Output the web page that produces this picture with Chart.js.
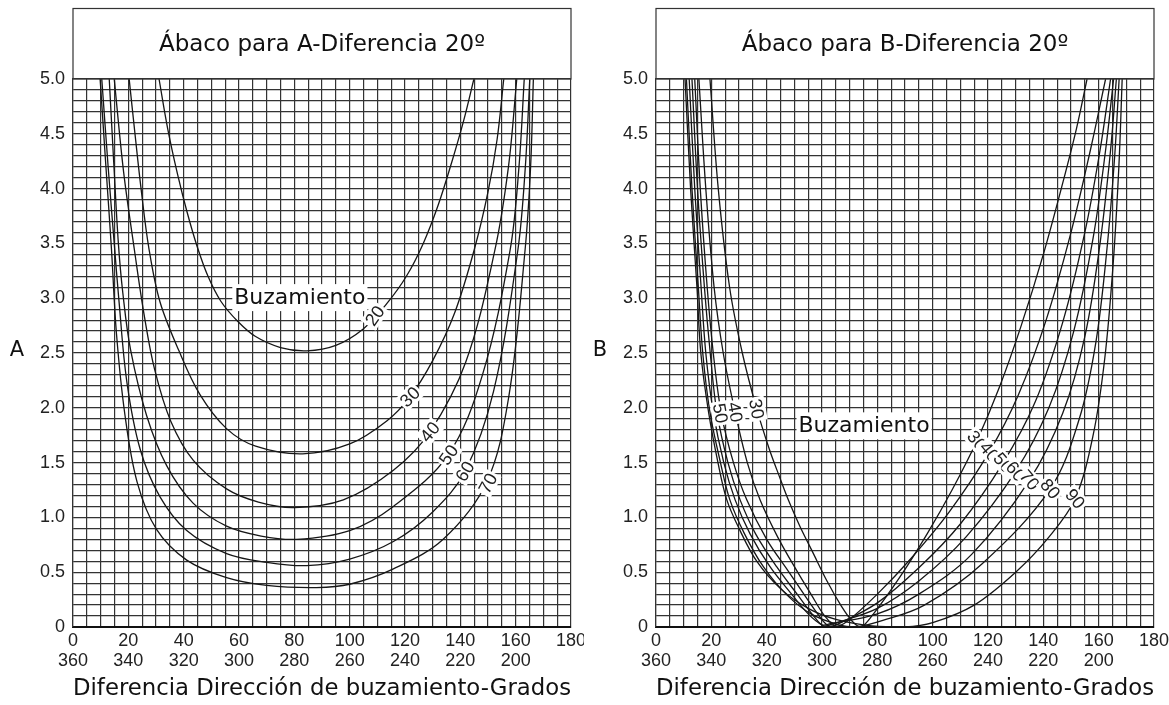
<!DOCTYPE html>
<html>
<head>
<meta charset="utf-8">
<script src="https://cdn.jsdelivr.net/npm/chart.js@4.4.1/dist/chart.umd.min.js"></script>
<style>
  body { margin: 0; background: #fff; }
  canvas { position: absolute; top: 0; }
</style>
</head>
<body>
<canvas id="chartA" width="584" height="705" style="left:0"></canvas>
<canvas id="chartB" width="585" height="705" style="left:584px"></canvas>
<script>
// axis labels
const topLabels = ['0', '20', '40', '60', '80', '100', '120', '140', '160', '180'];
const bottomLabels = ['360', '340', '320', '300', '280', '260', '240', '220', '200', ''];
const yLabels = ['0', '0.5', '1.0', '1.5', '2.0', '2.5', '3.0', '3.5', '4.0', '4.5', '5.0'];

// Chart A - [dip direction difference, factor A] per dip
const a20 = [[31.1,5.0],[34.2,4.55],[37.8,4.13],[41.3,3.78],[44.9,3.47],[48.8,3.2],[53.5,2.97],[59.5,2.79],[66,2.65],[75,2.55],[84.5,2.52],[95,2.57],[104.9,2.72],[113.4,2.95],[120.5,3.2],[126.6,3.5],[132,3.85],[137,4.25],[141.2,4.62],[144.9,5.0]];
const a30 = [[20.3,5.0],[22.4,4.5],[24.6,4.0],[27.4,3.46],[31.4,2.97],[38.3,2.52],[45.9,2.12],[55.5,1.81],[66,1.65],[83,1.58],[100,1.67],[113.4,1.88],[121.8,2.1],[130,2.43],[138,2.87],[145,3.44],[150,3.97],[153.3,4.45],[155.7,5.0]];
const a40 = [[14.9,5.0],[18.3,4.15],[22.2,3.44],[25.7,2.85],[29.5,2.35],[35.3,1.88],[43.5,1.52],[55.5,1.26],[67,1.14],[80,1.09],[97.7,1.16],[115.8,1.43],[129,1.78],[142,2.42],[152.5,3.44],[157.4,4.2],[160.4,5.0]];
const a50 = [[13.1,5.0],[14.7,4.25],[16.4,3.5],[18,3.05],[20.8,2.53],[26.6,1.93],[33.9,1.47],[43.4,1.13],[55.5,0.92],[68,0.83],[80.8,0.8],[100,0.88],[115.8,1.1],[135.6,1.57],[148,2.3],[158,3.44],[161.2,4.2],[163.1,5.0]];
const a60 = [[10.4,5.0],[12.7,4.2],[14.9,3.5],[16.6,2.98],[19.5,2.23],[24.3,1.62],[31.4,1.19],[41.1,0.88],[55.5,0.67],[70,0.59],[84.5,0.56],[100,0.62],[115.8,0.78],[130,1.05],[141.7,1.42],[152,2.15],[160.8,3.44],[163.5,4.2],[165.1,5.0]];
const a70 = [[9.8,5.0],[11.9,4.2],[13.9,3.45],[15.7,2.68],[18.8,1.93],[23.2,1.32],[30.2,0.89],[41.1,0.61],[55.5,0.45],[70,0.38],[88,0.36],[100,0.39],[115.8,0.53],[133.8,0.8],[149.5,1.32],[157.5,2.1],[163.4,3.44],[165.4,4.2],[166.4,5.0]];

// Chart B - [dip direction difference, factor B] per dip
const b30 = [[19.5,5.0],[22.5,4.0],[26.6,3.1],[31.2,2.5],[36.4,1.99],[41,1.62],[44.8,1.36],[48,1.15],[52,0.92],[56.5,0.69],[62,0.41],[67,0.19],[71,0.05],[74,0.0],[78,0.1],[88,0.45],[98,0.85],[107,1.25],[116,1.7],[124,2.18],[132,2.75],[140,3.4],[147,4.05],[152,4.55],[155.8,5.0]];
const b40 = [[15.5,5.0],[18,4.0],[21,3.1],[24.3,2.5],[28.6,1.96],[33,1.5],[37.6,1.16],[44,0.82],[50.5,0.53],[56,0.3],[61,0.1],[65,0.01],[69,0.05],[80,0.3],[92,0.62],[106,1.05],[120.5,1.6],[131,2.12],[141,2.8],[150,3.6],[157,4.35],[162.5,5.0]];
const b50 = [[14,5.0],[16,4.0],[18.5,3.1],[20.7,2.5],[23.6,1.95],[28,1.5],[32.8,1.16],[40,0.8],[47.8,0.51],[54,0.28],[59,0.1],[62.5,0.01],[66,0.03],[80,0.22],[95,0.54],[110,0.94],[125.5,1.5],[137,2.05],[147,2.78],[155,3.6],[160.5,4.35],[164.3,5.0]];
const b60 = [[13,5.0],[15,4.0],[17.5,3.1],[19.6,2.5],[22,1.96],[26,1.5],[30.4,1.16],[36,0.85],[43.6,0.55],[51,0.3],[57,0.1],[60.5,0.01],[64,0.03],[80,0.17],[95,0.42],[112,0.82],[130,1.42],[142,2.0],[151,2.7],[158,3.55],[162.5,4.35],[165.4,5.0]];
const b70 = [[12,5.0],[14,4.0],[16.3,3.1],[18,2.5],[20.7,1.96],[24.5,1.5],[28.6,1.16],[34,0.85],[41.2,0.55],[49,0.3],[55,0.12],[60,0.02],[63,0.03],[80,0.12],[95,0.3],[114,0.66],[135,1.34],[147,1.95],[155,2.65],[160.5,3.5],[164.3,4.35],[166.4,5.0]];
const b80 = [[11,5.0],[13,4.0],[15.3,3.1],[16.9,2.5],[19.5,1.96],[23.3,1.5],[26.7,1.16],[32,0.85],[38.8,0.55],[47,0.3],[56,0.12],[66,0.02],[72,0.0],[82,0.06],[97,0.2],[118,0.58],[142.5,1.26],[153,1.9],[159,2.6],[163,3.45],[165.8,4.3],[167.4,5.0]];
const b90 = [[10.5,5.0],[12.5,4.0],[14.8,3.1],[16.2,2.5],[19,1.96],[22.4,1.5],[25.6,1.16],[30,0.9],[36.4,0.6],[45,0.35],[55,0.17],[65,0.07],[78,0.01],[90,0.0],[100,0.04],[115,0.2],[130,0.5],[142,0.82],[151.5,1.17],[158,1.75],[162.2,2.45],[165.2,3.3],[167.3,4.2],[168.5,5.0]];

// curve labels: text, anchor (deg, value), text angle
const labelsA = [
  { text: '20', x: 109.1, y: 2.84, angle: -55 },
  { text: '30', x: 121.8, y: 2.10, angle: -45 },
  { text: '40', x: 129.0, y: 1.78, angle: -50 },
  { text: '50', x: 135.8, y: 1.57, angle: -55 },
  { text: '60', x: 141.7, y: 1.42, angle: -58 },
  { text: '70', x: 150.0, y: 1.31, angle: -62 }
];
const labelsB = [
  { text: '30', x: 36.4, y: 1.99, angle: 80 },
  { text: '40', x: 28.6, y: 1.96, angle: 80 },
  { text: '50', x: 23.3, y: 1.95, angle: 80 },
  { text: '30', x: 116.0, y: 1.70, angle: 50 },
  { text: '40', x: 120.5, y: 1.60, angle: 50 },
  { text: '50', x: 125.5, y: 1.50, angle: 50 },
  { text: '60', x: 130.0, y: 1.42, angle: 50 },
  { text: '70', x: 135.0, y: 1.34, angle: 50 },
  { text: '80', x: 142.5, y: 1.26, angle: 50 },
  { text: '90', x: 151.5, y: 1.17, angle: 50 }
];

const textFont = '"DejaVu Sans", Verdana, sans-serif';
const tickFont = '"Liberation Sans", Arial, sans-serif';

const curveLabels = {
  id: 'curveLabels',
  afterDatasetsDraw(chart, args, opts) {
    const { ctx, scales: { x, y } } = chart;
    ctx.save();
    ctx.textAlign = 'center';
    ctx.textBaseline = 'middle';
    ctx.font = '18px ' + tickFont;
    opts.items.forEach(l => {
      ctx.save();
      ctx.translate(x.getPixelForValue(l.x), y.getPixelForValue(l.y));
      ctx.rotate(l.angle * Math.PI / 180);
      const w = ctx.measureText(l.text).width;
      ctx.fillStyle = '#fff';
      ctx.fillRect(-w / 2 - 2, -9, w + 4, 18);
      ctx.fillStyle = '#222';
      ctx.fillText(l.text, 0, 1);
      ctx.restore();
    });
    // "Buzamiento"
    ctx.font = '22px ' + textFont;
    const bx = x.getPixelForValue(opts.note[0]), by = y.getPixelForValue(opts.note[1]);
    const bw = ctx.measureText('Buzamiento').width;
    ctx.fillStyle = '#fff';
    ctx.fillRect(bx - bw / 2 - 2, by - 13, bw + 4, 27);
    ctx.fillStyle = '#111';
    ctx.fillText('Buzamiento', bx, by + 1);
    ctx.restore();
  }
};

const frame = {
  id: 'frame',
  afterDraw(chart, args, opts) {
    const { ctx, chartArea: a } = chart;
    ctx.save();
    ctx.strokeStyle = '#333';
    ctx.lineWidth = 1.2;
    ctx.strokeRect(a.left, 8.5, a.right - a.left, a.top - 8.5);
    ctx.fillStyle = '#111';
    ctx.font = '23px ' + textFont;
    ctx.textAlign = 'center';
    ctx.textBaseline = 'middle';
    ctx.fillText(opts.title, (a.left + a.right) / 2, 45);
    ctx.font = '21px ' + textFont;
    ctx.fillText(opts.letter, a.left - 56, 351);
    ctx.restore();
  }
};

function makeChart(id, curves, labels, title, letter, note, axisWidth, padRight) {
  return new Chart(document.getElementById(id), {
    type: 'scatter',
    data: {
      datasets: curves.map(c => ({
        data: c.map(p => ({ x: p[0], y: p[1] })),
        showLine: true,
        borderColor: '#161616',
        borderWidth: 1.3,
        pointRadius: 0,
        tension: 0.35
      }))
    },
    options: {
      responsive: false,
      animation: false,
      layout: { padding: { top: 79, right: padRight, left: 0, bottom: 0 } },
      plugins: {
        legend: { display: false },
        tooltip: { enabled: false },
        curveLabels: { items: labels, note: note },
        frame: { title: title, letter: letter }
      },
      scales: {
        x: {
          type: 'linear',
          min: 0,
          max: 180,
          afterFit: s => { s.height = 78; s.paddingLeft = 0; s.paddingRight = 0; },
          grid: { color: '#333', lineWidth: 1.2, drawTicks: false },
          border: { color: '#111', width: 2 },
          ticks: {
            stepSize: 5,
            autoSkip: false,
            maxRotation: 0,
            padding: 4,
            color: '#222',
            font: { family: tickFont, size: 18, lineHeight: 1.1 },
            callback: v => {
              const i = topLabels.indexOf(String(v));
              return i >= 0 ? [topLabels[i], bottomLabels[i]] : '';
            }
          },
          title: {
            display: true,
            text: 'Diferencia Dirección de buzamiento-Grados',
            color: '#111',
            font: { family: textFont, size: 23, lineHeight: 1.2 },
            padding: { top: 0, bottom: 2 }
          }
        },
        y: {
          type: 'linear',
          min: 0,
          max: 5,
          afterFit: s => { s.width = axisWidth; s.paddingTop = 0; s.paddingBottom = 0; },
          grid: { color: '#333', lineWidth: 1.2, drawTicks: false },
          border: { color: '#333', width: 1.2 },
          ticks: {
            stepSize: 0.1,
            maxTicksLimit: 100,
            autoSkip: false,
            padding: 8,
            color: '#222',
            font: { family: tickFont, size: 18 },
            callback: v => {
              const k = Math.round(v * 10);
              return k % 5 === 0 ? yLabels[k / 5] : '';
            }
          }
        }
      }
    },
    plugins: [curveLabels, frame]
  });
}

makeChart('chartA', [a20, a30, a40, a50, a60, a70], labelsA,
  'Ábaco para A-Diferencia 20º', 'A', [82, 3.01], 73, 13);
makeChart('chartB', [b30, b40, b50, b60, b70, b80, b90], labelsB,
  'Ábaco para B-Diferencia 20º', 'B', [75.2, 1.84], 72, 15);
</script>
</body>
</html>
